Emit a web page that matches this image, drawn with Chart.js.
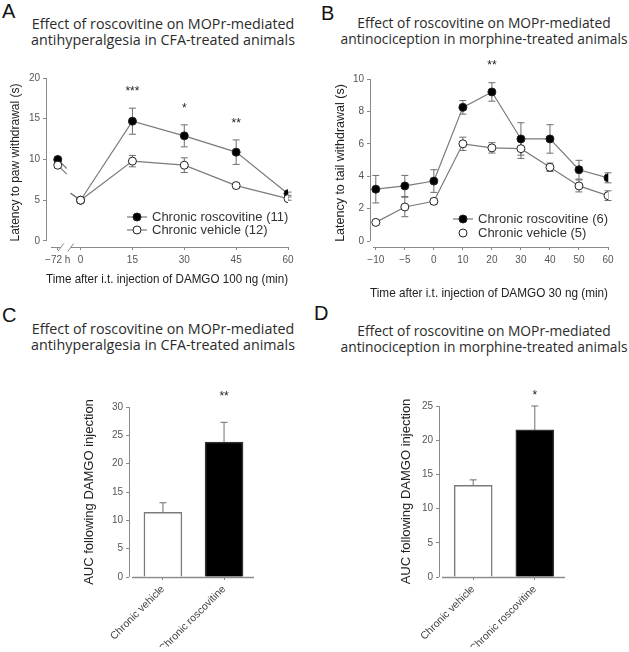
<!DOCTYPE html>
<html>
<head>
<meta charset="utf-8">
<script src="https://cdn.jsdelivr.net/npm/chart.js@4"></script>
<style>
  body { margin: 0; background: #fff; width: 629px; height: 652px; position: relative; overflow: hidden; font-family: "Liberation Sans", Arial, sans-serif; }
  .letter { position: absolute; font-size: 20px; line-height: 20px; color: #111; }
  .title { position: absolute; width: 400px; text-align: center; font-family: "Open Sans", sans-serif; font-size: 14.3px; line-height: 16px; color: #2b2b2b; white-space: nowrap; }
  .title.wide { font-size: 13.8px; }
  canvas { position: absolute; }
</style>
</head>
<body>
<div class="letter" style="left:2px;top:1px">A</div>
<div class="letter" style="left:321px;top:3px">B</div>
<div class="letter" style="left:2px;top:305px">C</div>
<div class="letter" style="left:314px;top:303px">D</div>

<div class="title" style="left:-37px;top:16px">Effect of roscovitine on MOPr-mediated<br>antihyperalgesia in CFA-treated animals</div>
<div class="title wide" style="left:284px;top:15px">Effect of roscovitine on MOPr-mediated<br>antinociception in morphine-treated animals</div>
<div class="title" style="left:-37px;top:321px">Effect of roscovitine on MOPr-mediated<br>antihyperalgesia in CFA-treated animals</div>
<div class="title wide" style="left:284px;top:323px">Effect of roscovitine on MOPr-mediated<br>antinociception in morphine-treated animals</div>

<canvas id="chartA" width="310" height="240" style="left:0;top:60px"></canvas>
<canvas id="chartB" width="319" height="260" style="left:310px;top:50px"></canvas>
<canvas id="chartC" width="310" height="272" style="left:0;top:380px"></canvas>
<canvas id="chartD" width="319" height="272" style="left:310px;top:380px"></canvas>

<script>
// Panel A - paw withdrawal after DAMGO 100 ng (CFA animals)
const timeA = [-6.6, 0, 15, 30, 45, 60];          // first slot is the -72 h baseline
const timeLabelsA = ['\u221272 h', '0', '15', '30', '45', '60'];
const yTicksA = [0, 5, 10, 15, 20];
const roscoA = [10.0, 5.0, 14.7, 12.9, 10.9, 5.8];
const roscoErrA = [0.3, 0, 1.6, 1.35, 1.5, 0.2];
const vehicleA = [9.3, 5.0, 9.8, 9.3, 6.8, 5.2];
const vehicleErrA = [0.3, 0, 0.7, 0.9, 0.3, 0.2];
const starsA = ['', '', '***', '*', '**', ''];

// Panel B - tail withdrawal after DAMGO 30 ng (morphine animals)
const timeLabelsB = ['\u221210', '\u22125', '0', '10', '20', '30', '40', '50', '60'];
const yTicksB = [0, 2, 4, 6, 8, 10];
const roscoB = [3.2, 3.4, 3.7, 8.25, 9.2, 6.3, 6.3, 4.4, 3.9];
const roscoErrB = [0.85, 0.65, 0.7, 0.42, 0.57, 1.0, 0.88, 0.58, 0.31];
const vehicleB = [1.15, 2.1, 2.45, 6.0, 5.75, 5.7, 4.55, 3.4, 2.8];
const vehicleErrB = [0.1, 0.6, 0.18, 0.41, 0.32, 0.6, 0.26, 0.37, 0.3];
const starsB = ['', '', '', '', '**', '', '', '', ''];

// Panels C and D - AUC
const groups = ['Chronic vehicle', 'Chronic roscovitine'];
const aucC = [11.4, 23.8];
const aucErrC = [1.7, 3.5];
const starsC = ['', '**'];
const yTicksC = [0, 5, 10, 15, 20, 25, 30];
const aucD = [13.4, 21.5];
const aucErrD = [0.8, 3.5];
const starsD = ['', '*'];
const yTicksD = [0, 5, 10, 15, 20, 25];

const LINE = '#7a7a7a';
const AXIS = '#8a8a8a';
const TICK_FONT = { family: 'Liberation Sans', size: 10 };
const XTITLE_FONT = { family: 'Liberation Sans', size: 13.2 };

// error bars, star labels, detached axes, legend and axis break
const extras = {
  id: 'extras',
  beforeDatasetsDraw(chart, args, o) {
    const ctx = chart.ctx;
    const ys = chart.scales.y;
    const area = chart.chartArea;
    ctx.save();
    // axes
    ctx.strokeStyle = AXIS;
    ctx.lineWidth = 1;
    ctx.beginPath();
    ctx.moveTo(area.left + 0.5, ys.getPixelForValue(o.yFrom));
    ctx.lineTo(area.left + 0.5, ys.getPixelForValue(o.yTo));
    ctx.stroke();
    ctx.lineWidth = o.xWidth || 1;
    ctx.beginPath();
    const xb = area.bottom + 0.5;
    if (o.breakAfter !== undefined) {
      const bx = chart.scales.x.getPixelForValue(o.breakAfter) + 8;
      ctx.moveTo(area.left + o.xGap, xb); ctx.lineTo(bx - 5, xb);
      ctx.moveTo(bx + 5, xb); ctx.lineTo(area.right, xb);
      ctx.moveTo(bx - 8, xb + 4); ctx.lineTo(bx - 2, xb - 4);
      ctx.moveTo(bx + 2, xb + 4); ctx.lineTo(bx + 8, xb - 4);
    } else {
      ctx.moveTo(area.left + o.xGap, xb); ctx.lineTo(area.right, xb);
    }
    ctx.stroke();

    // error bars
    chart.data.datasets.forEach((ds, i) => {
      if (!ds.errorBars) return;
      const meta = chart.getDatasetMeta(i);
      meta.data.forEach((el, j) => {
        const err = ds.errorBars[j];
        if (!err) return;
        const v = ds.data[j].y;
        const top = ys.getPixelForValue(v + err);
        const bottom = ds.upOnly ? ys.getPixelForValue(v) : ys.getPixelForValue(v - err);
        ctx.strokeStyle = '#6e6e6e';
        ctx.lineWidth = 1;
        ctx.beginPath();
        ctx.moveTo(el.x, top); ctx.lineTo(el.x, bottom);
        ctx.moveTo(el.x - 3.5, top); ctx.lineTo(el.x + 3.5, top);
        if (!ds.upOnly) { ctx.moveTo(el.x - 3.5, bottom); ctx.lineTo(el.x + 3.5, bottom); }
        ctx.stroke();
      });
    });

    // short stubs on each side of the time break
    if (o.breakAfter !== undefined) {
      ctx.strokeStyle = LINE;
      ctx.lineWidth = 1.2;
      chart.data.datasets.forEach((ds, i) => {
        const pts = chart.getDatasetMeta(i).data;
        ctx.beginPath();
        ctx.moveTo(pts[0].x, pts[0].y); ctx.lineTo(pts[0].x + 9, pts[0].y + 9);
        ctx.moveTo(pts[1].x, pts[1].y); ctx.lineTo(pts[1].x - 10, pts[1].y - 7);
        ctx.stroke();
      });
    }
    ctx.restore();
  },
  afterDatasetsDraw(chart, args, o) {
    const ctx = chart.ctx;
    const ys = chart.scales.y;
    ctx.save();
    // significance stars
    ctx.fillStyle = '#222';
    ctx.font = '12px "Liberation Sans"';
    ctx.textAlign = 'center';
    ctx.textBaseline = 'alphabetic';
    const ds = chart.data.datasets[o.starSet];
    const meta = chart.getDatasetMeta(o.starSet);
    o.stars.forEach((s, j) => {
      if (!s) return;
      const el = meta.data[j];
      let y;
      if (o.starAbove !== undefined) y = chart.chartArea.top - o.starAbove;
      else y = ys.getPixelForValue(ds.data[j].y + ds.errorBars[j]) - o.starGap;
      ctx.fillText(s, el.x, y + 7);
    });
    // legend
    if (o.legend) {
      const L = o.legend;
      ctx.font = '13px "Liberation Sans"';
      ctx.textAlign = 'left';
      ctx.textBaseline = 'middle';
      L.rows.forEach((r, k) => {
        const y = L.y + k * L.gap;
        if (r.line) {
          ctx.strokeStyle = LINE; ctx.lineWidth = 1.2;
          ctx.beginPath(); ctx.moveTo(L.x, y); ctx.lineTo(L.x + 20, y); ctx.stroke();
        }
        ctx.beginPath(); ctx.arc(L.x + 10, y, 4, 0, Math.PI * 2);
        ctx.fillStyle = r.fill; ctx.fill();
        ctx.strokeStyle = '#222'; ctx.lineWidth = 1; ctx.stroke();
        ctx.fillStyle = '#333';
        ctx.fillText(r.label, L.x + 25, y + 0.5);
      });
    }
    ctx.restore();
  }
};

function lineSet(label, xs, ys, errs, fill, hideFirstGap) {
  return {
    label: label,
    data: xs.map((x, i) => ({ x: x, y: ys[i] })),
    borderColor: LINE,
    borderWidth: 1.2,
    pointRadius: 4,
    pointBackgroundColor: fill,
    pointBorderColor: '#222',
    pointBorderWidth: 1,
    errorBars: errs,
    segment: hideFirstGap ? { borderColor: c => c.p0DataIndex === 0 ? 'rgba(0,0,0,0)' : undefined } : undefined
  };
}

function fixedTicks(list) {
  return s => { s.ticks = list.map(v => ({ value: v })); };
}

function axisCommon(extra) {
  return Object.assign({
    type: 'linear',
    border: { display: false },
    grid: { display: true, drawOnChartArea: false, drawTicks: true, tickLength: 3, color: AXIS },
    ticks: { color: '#555', font: TICK_FONT, padding: 3, autoSkip: false }
  }, extra);
}

const baseOptions = {
  responsive: false,
  animation: false,
  events: [],
  plugins: { legend: { display: false }, tooltip: { enabled: false } }
};

// ---- A ----
new Chart(document.getElementById('chartA'), {
  type: 'line',
  data: {
    datasets: [
      lineSet('Chronic vehicle (12)', timeA, vehicleA, vehicleErrA, '#fff', true),
      lineSet('Chronic roscovitine (11)', timeA, roscoA, roscoErrA, '#000', true)
    ]
  },
  options: Object.assign({}, baseOptions, {
    layout: { padding: { left: 0, right: 22, top: 18, bottom: 8 } },
    scales: {
      x: axisCommon({
        min: -10, max: 60,
        afterBuildTicks: fixedTicks(timeA),
        afterFit: s => { s.height = 45; },
        ticks: { color: '#555', font: TICK_FONT, padding: 4, maxRotation: 0, autoSkip: false, callback: (v, i) => timeLabelsA[i] },
        title: { display: true, text: 'Time after i.t. injection of DAMGO 100 ng (min)', color: '#222', font: XTITLE_FONT, padding: { top: 0, bottom: 5 } }
      }),
      y: axisCommon({
        min: -0.74, max: 20,
        afterBuildTicks: fixedTicks(yTicksA),
        afterFit: s => { s.width = 46; },
        title: { display: true, text: 'Latency to paw withdrawal (s)', color: '#222', font: { family: 'Liberation Sans', size: 12 }, padding: { top: 8, bottom: 0 } }
      })
    },
    plugins: Object.assign({}, baseOptions.plugins, {
      extras: {
        yFrom: 0, yTo: 20, xGap: 5, breakAfter: timeA[0],
        stars: starsA, starSet: 1, starGap: 20,
        legend: { x: 127, y: 157, gap: 13, rows: [
          { label: 'Chronic roscovitine (11)', fill: '#000', line: true },
          { label: 'Chronic vehicle (12)', fill: '#fff', line: true }
        ] }
      }
    })
  }),
  plugins: [extras]
});

// ---- B ----
const idxB = timeLabelsB.map((t, i) => i);
new Chart(document.getElementById('chartB'), {
  type: 'line',
  data: {
    datasets: [
      lineSet('Chronic vehicle (5)', idxB, vehicleB, vehicleErrB, '#fff', false),
      lineSet('Chronic roscovitine (6)', idxB, roscoB, roscoErrB, '#000', false)
    ]
  },
  options: Object.assign({}, baseOptions, {
    layout: { padding: { left: 15, right: 21, top: 29, bottom: 8 } },
    scales: {
      x: axisCommon({
        min: -0.2, max: 8,
        afterBuildTicks: fixedTicks(idxB),
        afterFit: s => { s.height = 55; },
        ticks: { color: '#555', font: TICK_FONT, padding: 4, maxRotation: 0, autoSkip: false, callback: (v, i) => timeLabelsB[i] },
        title: { display: true, text: 'Time after i.t. injection of DAMGO 30 ng (min)', color: '#222', font: XTITLE_FONT, padding: { top: 0, bottom: 1 } }
      }),
      y: axisCommon({
        min: -0.37, max: 10,
        afterBuildTicks: fixedTicks(yTicksB),
        afterFit: s => { s.width = 45; },
        title: { display: true, text: 'Latency to tail withdrawal (s)', color: '#222', font: { family: 'Liberation Sans', size: 12.5 }, padding: { top: 8, bottom: 0 } }
      })
    },
    plugins: Object.assign({}, baseOptions.plugins, {
      extras: {
        yFrom: 0, yTo: 10, xGap: 3,
        stars: starsB, starSet: 1, starGap: 21,
        legend: { x: 143, y: 169, gap: 14, rows: [
          { label: 'Chronic roscovitine (6)', fill: '#000', line: true },
          { label: 'Chronic vehicle (5)', fill: '#fff', line: false }
        ] }
      }
    })
  }),
  plugins: [extras]
});

// ---- C and D ----
function barChart(id, values, errs, stars, yTicks, yMax, pad) {
  return new Chart(document.getElementById(id), {
    type: 'bar',
    data: {
      datasets: [{
        data: values.map((v, i) => ({ x: i, y: v })),
        backgroundColor: ['#fff', '#000'],
        borderColor: ['#7a7a7a', '#333'],
        borderWidth: 1.5,
        borderSkipped: 'bottom',
        barThickness: 38,
        errorBars: errs,
        upOnly: true
      }]
    },
    options: Object.assign({}, baseOptions, {
      layout: { padding: pad },
      scales: {
        x: axisCommon({
          min: -0.555, max: 1.49,
          offset: false,
          grid: { display: true, drawOnChartArea: false, drawTicks: true, tickLength: 3, color: AXIS, offset: false },
          afterBuildTicks: fixedTicks([0, 1]),
          afterFit: s => { s.height = 70; },
          ticks: { color: '#444', font: { family: 'Liberation Sans', size: 10.5 }, padding: 3, minRotation: 45, maxRotation: 45, autoSkip: false, callback: (v, i) => groups[i] }
        }),
        y: axisCommon({
          min: 0, max: yMax,
          afterBuildTicks: fixedTicks(yTicks),
          afterFit: s => { s.width = 129 - pad.left; },
          title: { display: true, text: 'AUC following DAMGO injection', color: '#222', font: { family: 'Liberation Sans', size: 13 }, padding: { top: 8, bottom: 0 } }
        })
      },
      plugins: Object.assign({}, baseOptions.plugins, {
        extras: { yFrom: 0, yTo: yMax, xGap: 3, xWidth: 1.5, stars: stars, starSet: 0, starAbove: 14 }
      })
    }),
    plugins: [extras]
  });
}

barChart('chartC', aucC, aucErrC, starsC, yTicksC, 30, { left: 74, right: 56, top: 27, bottom: 5 });
barChart('chartD', aucD, aucErrD, starsD, yTicksD, 25, { left: 81, right: 64, top: 26, bottom: 5 });
</script>
</body>
</html>
